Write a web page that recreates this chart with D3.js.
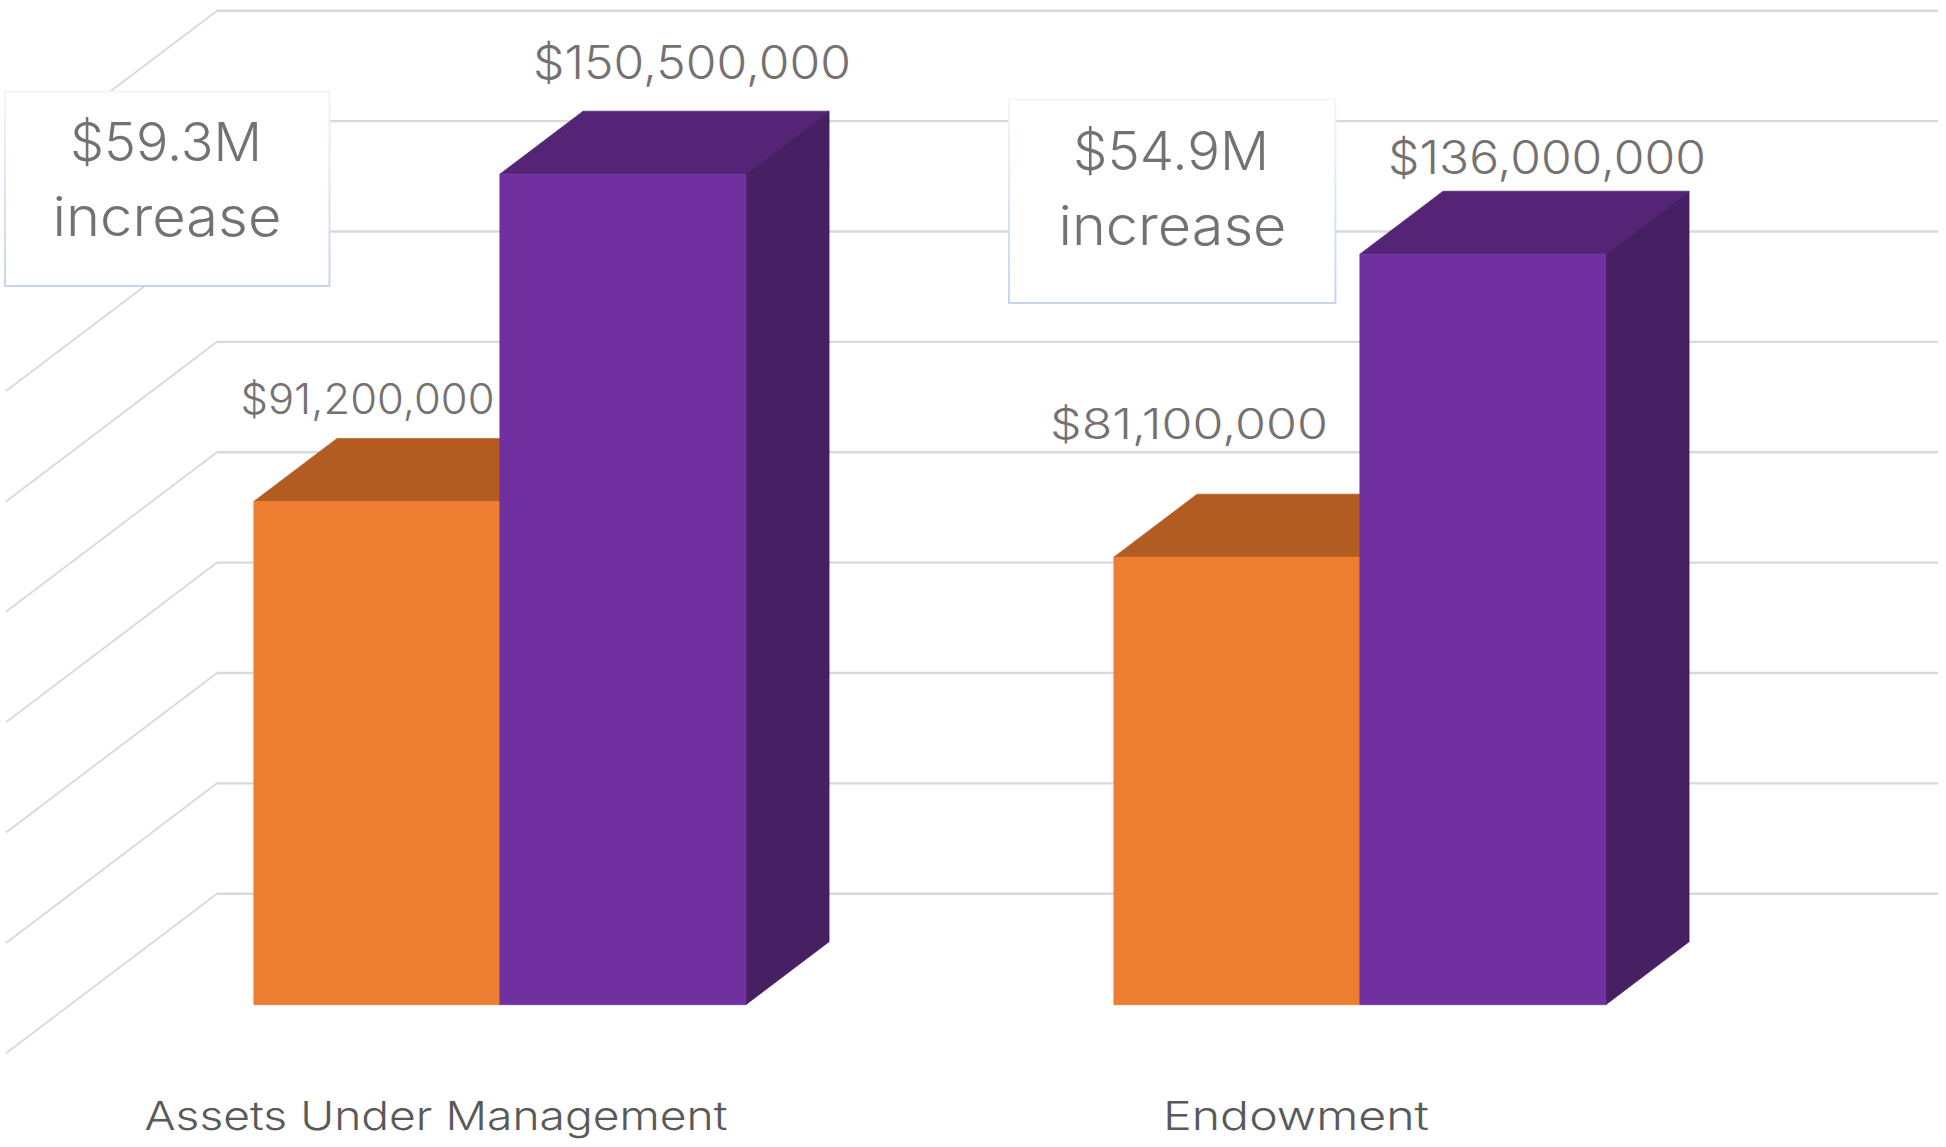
<!DOCTYPE html>
<html>
<head>
<meta charset="utf-8">
<title>Assets and endowment</title>
<script src="https://cdn.jsdelivr.net/npm/d3@7"></script>
<style>
    body { margin: 0; background: #fff; }
    svg { display: block; }
    text { font-family: Inter, "Open Sans", sans-serif; font-weight: 300; }
</style>
</head>
<body>
<svg id="chart" width="1946" height="1147"></svg>
<script>
///////////////////////////////////////////
// Data (millions of dollars)
///////////////////////////////////////////
var categories = ["Assets Under Management", "Endowment"];
var seriesNames = ["before", "after"];
var beforeValues = [91.2, 81.1];
var afterValues = [150.5, 136.0];
var increaseLabels = ["$59.3M", "$54.9M"];
var gridTicks = [0, 20, 40, 60, 80, 100, 120, 140, 160];

///////////////////////////////////////////
// Layout
///////////////////////////////////////////
var depthX = 211, depthY = 159.6;
var barFrontDepth = 0.3045, barBackDepth = 0.699;
var gridRight = 1938;

var svg = d3.select("#chart");

var x = d3.scaleBand().domain(categories).range([6, 1726]);
var y = d3.scaleLinear().domain([0, 160]).range([893.7, 10.7]);
var xSeries = d3.scaleBand().domain(seriesNames).range([183.6, 675.6]);

var fills = {
    before: { front: "#ed7d31", top: "#b25c22", side: "#8e4a1c" },
    after: { front: "#7030a0", top: "#552476", side: "#471f63" }
};

// hand placed value labels: centre, baseline, width
var valueLabelSpots = {
    before: [[367.5, 413.6, 254], [1189, 439, 278]],
    after: [[692, 79, 318], [1547, 174, 318]]
};

// depth 0 is the front edge of the floor, depth 1 the back wall
function project(px, value, depth) {
    return [px + depth * depthX, y(value) + (1 - depth) * depthY];
}

function poly(points) {
    return "M" + points.map(function(p) { return p.join(","); }).join("L") + "Z";
}

///////////////////////////////////////////
// Grid
///////////////////////////////////////////
var grid = svg.append("g");

grid.selectAll("line.wall")
    .data(gridTicks)
    .enter().append("line")
    .attr("class", "wall")
    .attr("x1", function(d) { return project(x.range()[0], d, 1)[0]; })
    .attr("x2", gridRight)
    .attr("y1", function(d) { return y(d); })
    .attr("y2", function(d) { return y(d); })
    .attr("stroke", "#d9d9d9")
    .attr("stroke-width", 2.4);

grid.selectAll("line.side")
    .data(gridTicks)
    .enter().append("line")
    .attr("class", "side")
    .attr("x1", function(d) { return project(x.range()[0], d, 1)[0]; })
    .attr("y1", function(d) { return project(x.range()[0], d, 1)[1]; })
    .attr("x2", function(d) { return project(x.range()[0], d, 0)[0]; })
    .attr("y2", function(d) { return project(x.range()[0], d, 0)[1]; })
    .attr("stroke", "#d9d9d9")
    .attr("stroke-width", 1.8);

///////////////////////////////////////////
// Bars
///////////////////////////////////////////
var barData = [];
categories.forEach(function(c, i) {
    barData.push({ category: c, series: "before", value: beforeValues[i], index: i });
    barData.push({ category: c, series: "after", value: afterValues[i], index: i });
});

var bar = svg.selectAll("g.bar")
    .data(barData)
    .enter().append("g")
    .attr("class", "bar");

function barLeft(d) {
    return x(d.category) + xSeries(d.series);
}

function barRight(d) {
    return barLeft(d) + xSeries.bandwidth();
}

// thin stroke in the face colour closes the pale seam between faces
function face(name, corners) {
    bar.append("path")
        .attr("fill", function(d) { return fills[d.series][name]; })
        .attr("stroke", function(d) { return fills[d.series][name]; })
        .attr("stroke-width", 0.7)
        .attr("d", function(d) { return poly(corners(d)); });
}

face("top", function(d) {
    return [
        project(barLeft(d), d.value, barFrontDepth),
        project(barRight(d), d.value, barFrontDepth),
        project(barRight(d), d.value, barBackDepth),
        project(barLeft(d), d.value, barBackDepth)
    ];
});

face("side", function(d) {
    return [
        project(barRight(d), d.value, barFrontDepth),
        project(barRight(d), 0, barFrontDepth),
        project(barRight(d), 0, barBackDepth),
        project(barRight(d), d.value, barBackDepth)
    ];
});

face("front", function(d) {
    return [
        project(barLeft(d), d.value, barFrontDepth),
        project(barRight(d), d.value, barFrontDepth),
        project(barRight(d), 0, barFrontDepth),
        project(barLeft(d), 0, barFrontDepth)
    ];
});

///////////////////////////////////////////
// Text
///////////////////////////////////////////
var formatDollars = d3.format("$,");

svg.selectAll("text.value")
    .data(barData)
    .enter().append("text")
    .attr("class", "value")
    .attr("text-anchor", "middle")
    .attr("fill", "#767171")
    .attr("x", function(d) { return valueLabelSpots[d.series][d.index][0]; })
    .attr("y", function(d) { return valueLabelSpots[d.series][d.index][1]; })
    .attr("textLength", function(d) { return valueLabelSpots[d.series][d.index][2]; })
    .attr("lengthAdjust", "spacingAndGlyphs")
    .attr("font-size", function(d) { return d.series === "before" ? 42 : 46; })
    .text(function(d) { return formatDollars(d.value * 1e6); });

// category labels, centred under the front edge of each band
var catWidths = [583, 266];
svg.selectAll("text.category")
    .data(categories)
    .enter().append("text")
    .attr("class", "category")
    .attr("text-anchor", "middle")
    .attr("fill", "#595959")
    .attr("font-size", 40)
    .attr("x", function(d) { return x(d) + x.bandwidth() / 2; })
    .attr("y", 1130)
    .attr("textLength", function(d, i) { return catWidths[i]; })
    .attr("lengthAdjust", "spacingAndGlyphs")
    .text(function(d) { return d; });

// callout boxes
var boxes = [
    { x: 5, y: 91.5, w: 324.5, h: 194.5, line1: [166, 161.4, 192], line2: [167, 236.4, 229] },
    { x: 1009, y: 99.5, w: 326.4, h: 203.5, line1: [1171, 170, 196], line2: [1172.5, 245, 228] }
];

var defs = svg.append("defs");
var edge = defs.append("linearGradient")
    .attr("id", "box-edge")
    .attr("x1", 0).attr("y1", 0).attr("x2", 0).attr("y2", 1);
edge.append("stop").attr("offset", "0%").attr("stop-color", "#f3f5fc");
edge.append("stop").attr("offset", "100%").attr("stop-color", "#c6d5ee");

var box = svg.selectAll("g.callout")
    .data(boxes)
    .enter().append("g")
    .attr("class", "callout");

box.append("rect")
    .attr("x", function(d) { return d.x; })
    .attr("y", function(d) { return d.y; })
    .attr("width", function(d) { return d.w; })
    .attr("height", function(d) { return d.h; })
    .attr("fill", "#fff")
    .attr("stroke", "url(#box-edge)")
    .attr("stroke-width", 2);

box.append("text")
    .attr("text-anchor", "middle")
    .attr("fill", "#767171")
    .attr("font-size", 54)
    .attr("x", function(d) { return d.line1[0]; })
    .attr("y", function(d) { return d.line1[1]; })
    .attr("textLength", function(d) { return d.line1[2]; })
    .attr("lengthAdjust", "spacingAndGlyphs")
    .text(function(d, i) { return increaseLabels[i]; });

box.append("text")
    .attr("text-anchor", "middle")
    .attr("fill", "#767171")
    .attr("font-size", 54)
    .attr("x", function(d) { return d.line2[0]; })
    .attr("y", function(d) { return d.line2[1]; })
    .attr("textLength", function(d) { return d.line2[2]; })
    .attr("lengthAdjust", "spacingAndGlyphs")
    .text("increase");
</script>
</body>
</html>
